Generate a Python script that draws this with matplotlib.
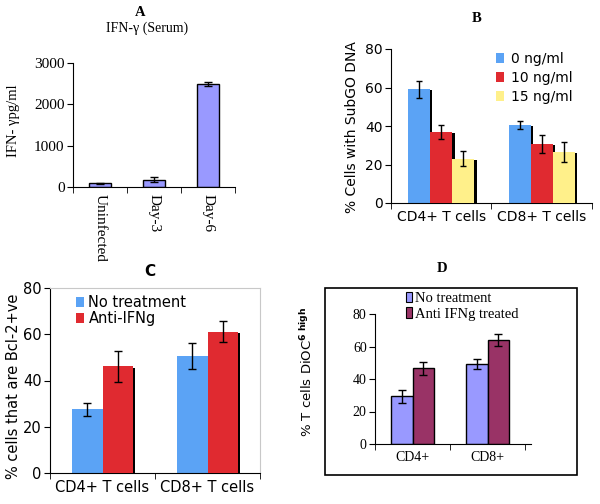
import numpy as np
import matplotlib
matplotlib.use("Agg")
import matplotlib.pyplot as plt
from matplotlib.patches import Patch, Rectangle

# ---- data ----
a_labels = ["Uninfected", "Day-3", "Day-6"]
a_vals = [85, 180, 2490]
a_err = [15, 70, 40]

b_groups = ["CD4+ T cells", "CD8+ T cells"]
b_series = ["0 ng/ml", "10 ng/ml", "15 ng/ml"]
b_vals = [[59.1, 40.5], [36.9, 30.6], [23.0, 26.7]]
b_err = [[4.4, 2.1], [3.5, 4.7], [3.8, 5.2]]

c_groups = ["CD4+ T cells", "CD8+ T cells"]
c_series = ["No treatment", "Anti-IFNg"]
c_vals = [[27.5, 50.7], [46.1, 61.1]]
c_err = [[2.9, 5.6], [6.6, 4.6]]

d_groups = ["CD4+", "CD8+"]
d_series = ["No treatment", "Anti IFNg treated"]
d_vals = [[29.3, 49.4], [46.5, 64.2]]
d_err = [[4.0, 3.0], [4.1, 3.7]]

W, H = 600, 504
fig = plt.figure(figsize=(6, 5.04), dpi=100)
SERIF = "Liberation Serif"
SANS = "DejaVu Sans"


def px_axes(l, t, r, b):
    return fig.add_axes([l / W, 1 - b / H, (r - l) / W, (b - t) / H])


def fx(x):
    return x / W


def fy(y):
    return 1 - y / H


def style_axes(ax, n, family, size):
    ax.spines["top"].set_visible(False)
    ax.spines["right"].set_visible(False)
    ax.set_xlim(-0.5, n - 0.5)
    ax.set_xticks(range(n))
    ax.set_xticks(np.arange(n + 1) - 0.5, minor=True)
    ax.tick_params(axis="x", which="major", length=0, pad=5)
    ax.tick_params(axis="x", which="minor", length=4, direction="out")
    ax.tick_params(axis="y", length=4, direction="out", pad=2)
    for lab in ax.get_yticklabels() + ax.get_xticklabels():
        lab.set_fontfamily(family)
        lab.set_fontsize(size)


# ---- Panel A ----
axA = px_axes(73, 63, 235, 187)
xa = np.arange(len(a_vals))
axA.bar(xa, a_vals, width=0.41, color="#9999FF", edgecolor="black", linewidth=1, zorder=2)
axA.errorbar(xa, a_vals, yerr=a_err, fmt="none", ecolor="black", elinewidth=1, capsize=3, zorder=3)
axA.set_ylim(0, 3000)
axA.set_yticks([0, 1000, 2000, 3000])
axA.set_xticks(xa)
style_axes(axA, 3, SERIF, 11)
axA.set_xticklabels(a_labels, rotation=270, va="top", ha="center", fontfamily=SERIF, fontsize=11)
fig.text(fx(140), fy(12), "A", ha="center", va="center", fontfamily=SERIF, fontweight="bold", fontsize=10.5)
fig.text(fx(147), fy(28), "IFN-γ (Serum)", ha="center", va="center", fontfamily=SERIF, fontsize=10)
fig.text(fx(14), fy(121), "IFN- γpg/ml", rotation=90, ha="center", va="center", fontfamily=SERIF, fontsize=10.5)

# ---- Panel B ----
axB = px_axes(391, 49, 592, 203)
b_colors = ["#5BA3F5", "#E02A30", "#FFF08A"]
xb = np.arange(len(b_groups))
bw = 0.22
for i, vals in enumerate(b_vals):
    pos = xb + (i - 1) * bw
    axB.bar(pos + 0.022, np.array(vals) - 0.6, width=bw, color="black", zorder=1)
for i, (vals, err, col) in enumerate(zip(b_vals, b_err, b_colors)):
    pos = xb + (i - 1) * bw
    axB.bar(pos, vals, width=bw, color=col, zorder=2 + i)
    axB.errorbar(pos, vals, yerr=err, fmt="none", ecolor="black", elinewidth=1, capsize=2.5, zorder=6)
axB.set_ylim(0, 80)
axB.set_yticks([0, 20, 40, 60, 80])
axB.set_xticks(xb)
axB.set_xticklabels(b_groups)
style_axes(axB, 2, SANS, 10)
handles = [Patch(facecolor=c, edgecolor="none") for c in b_colors]
axB.legend(handles, b_series, loc="upper left", bbox_to_anchor=(fx(496), fy(52)),
           bbox_transform=fig.transFigure, frameon=False, borderpad=0, borderaxespad=0,
           handlelength=0.6, handleheight=0.7, handletextpad=0.5, labelspacing=0.35,
           prop={"family": SANS, "size": 10})
fig.text(fx(477), fy(19), "B", ha="center", va="center", fontfamily=SERIF, fontweight="bold", fontsize=10.5)
fig.text(fx(352), fy(127), "% Cells with SubGO DNA", rotation=90, ha="center", va="center", fontfamily=SANS, fontsize=10)

# ---- Panel C ----
axC = px_axes(50, 288, 260, 473)
c_colors = ["#5BA3F5", "#E02A30"]
xc = np.arange(len(c_groups))
cw = 0.29
for i, vals in enumerate(c_vals):
    pos = xc + (i - 0.5) * cw
    axC.bar(pos + 0.024, np.array(vals) - 0.5, width=cw, color="black", zorder=1)
for i, (vals, err, col) in enumerate(zip(c_vals, c_err, c_colors)):
    pos = xc + (i - 0.5) * cw
    axC.bar(pos, vals, width=cw, color=col, zorder=2 + i)
    axC.errorbar(pos, vals, yerr=err, fmt="none", ecolor="black", elinewidth=1, capsize=3, zorder=6)
axC.set_ylim(0, 80)
axC.set_yticks([0, 20, 40, 60, 80])
axC.set_xticks(xc)
axC.set_xticklabels(c_groups)
style_axes(axC, 2, SANS, 10.5)
for s in ["top", "right"]:
    axC.spines[s].set_visible(True)
    axC.spines[s].set_color("#C8C8C8")
handles = [Patch(facecolor=c, edgecolor="none") for c in c_colors]
axC.legend(handles, c_series, loc="upper left", bbox_to_anchor=(fx(76), fy(295)),
           bbox_transform=fig.transFigure, frameon=False, borderpad=0, borderaxespad=0,
           handlelength=0.55, handleheight=0.7, handletextpad=0.3, labelspacing=0.1,
           prop={"family": SANS, "size": 10.5})
fig.text(fx(150), fy(272), "C", ha="center", va="center", fontfamily=SANS, fontweight="bold", fontsize=11)
fig.text(fx(14), fy(386), "% cells that are Bcl-2+ve", rotation=90, ha="center", va="center", fontfamily=SANS, fontsize=10.5)

# ---- Panel D ----
fig.add_artist(Rectangle((fx(325), fy(475)), fx(577 - 325), (475 - 288) / H, transform=fig.transFigure,
                         fill=False, edgecolor="black", linewidth=1.2))
axD = px_axes(375, 314, 531, 444)
d_colors = ["#9999FF", "#993366"]
xd = np.arange(len(d_groups))
dw = 0.29
for i, (vals, err, col) in enumerate(zip(d_vals, d_err, d_colors)):
    pos = xd + (i - 0.5) * dw
    axD.bar(pos, vals, width=dw, color=col, edgecolor="black", linewidth=1, zorder=2)
    axD.errorbar(pos, vals, yerr=err, fmt="none", ecolor="black", elinewidth=1, capsize=3, zorder=3)
axD.set_ylim(0, 80)
axD.set_yticks([0, 20, 40, 60, 80])
axD.set_xticks(xd)
axD.set_xticklabels(d_groups)
style_axes(axD, 2, SERIF, 10)
axD.set_xlim(-0.5, 1.58)
handles = [Patch(facecolor=c, edgecolor="black", linewidth=0.8) for c in d_colors]
axD.legend(handles, d_series, loc="upper left", bbox_to_anchor=(fx(406), fy(292)),
           bbox_transform=fig.transFigure, frameon=False, borderpad=0, borderaxespad=0,
           handlelength=0.4, handleheight=0.7, handletextpad=0.2, labelspacing=0.15,
           prop={"family": SERIF, "size": 10.5})
fig.text(fx(442), fy(269), "D", ha="center", va="center", fontfamily=SERIF, fontweight="bold", fontsize=10.5)
fig.text(fx(307), fy(372), r"% T cells DiOC$^{\mathbf{6\ high}}$", rotation=90, ha="center", va="center",
         fontfamily=SANS, fontsize=9.5)

fig.savefig("out.png", dpi=100)
